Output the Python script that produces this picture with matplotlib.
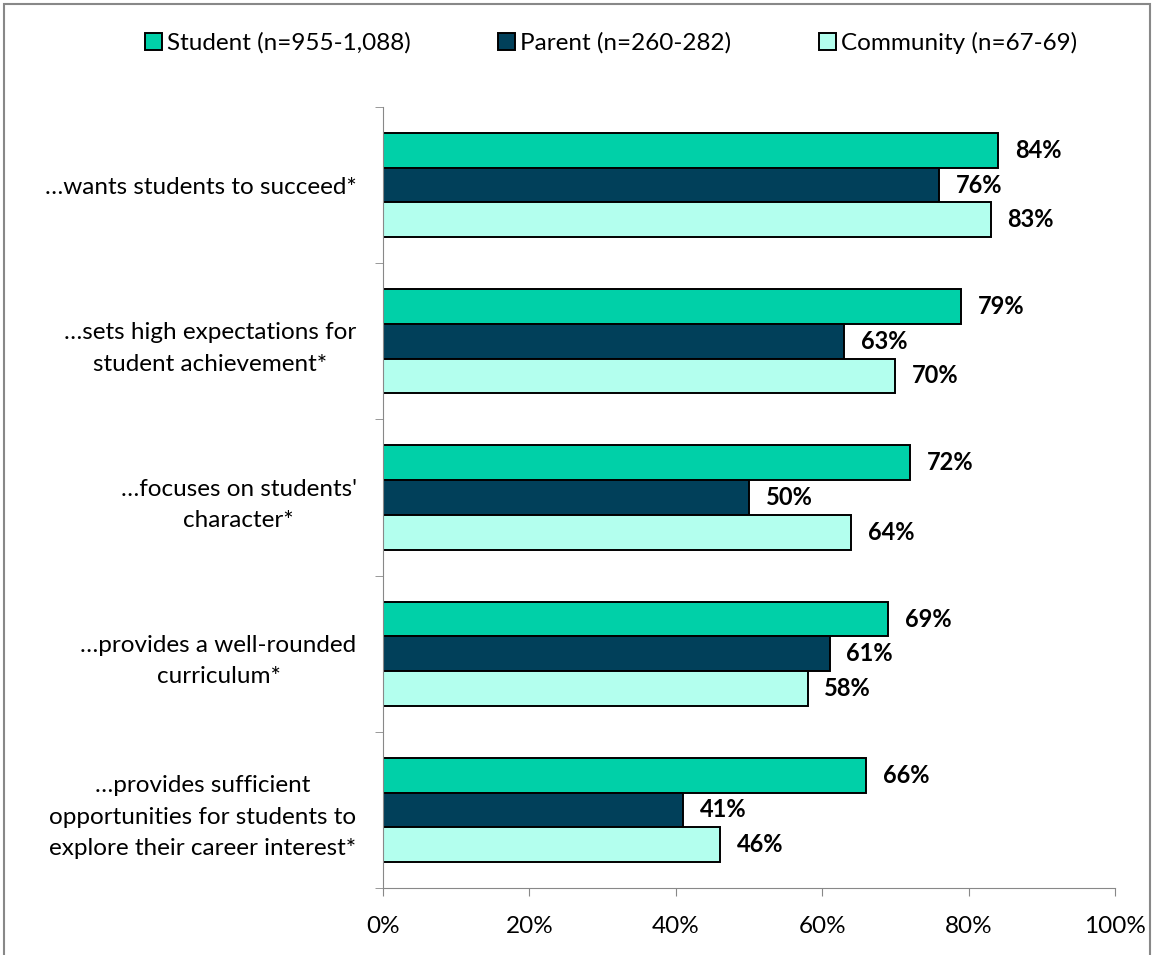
import matplotlib
matplotlib.use("Agg")
import matplotlib.pyplot as plt
from matplotlib.patches import Rectangle
import numpy as np

plt.rcParams['font.family'] = ['Lato', 'DejaVu Sans']

categories = ["\u2026wants students to succeed*",
              "\u2026sets high expectations for\nstudent achievement*",
              "\u2026focuses on students'\ncharacter*",
              "\u2026provides a well-rounded\ncurriculum*",
              "\u2026provides sufficient\nopportunities for students to\nexplore their career interest*"]
series_names = ["Student (n=955-1,088)", "Parent (n=260-282)", "Community (n=67-69)"]
student = [84, 79, 72, 69, 66]
parent = [76, 63, 50, 61, 41]
community = [83, 70, 64, 58, 46]
xticks = [0, 20, 40, 60, 80, 100]
xtick_labels = ["0%", "20%", "40%", "60%", "80%", "100%"]

colors = ["#00D0A8", "#01405A", "#B3FFEE"]
FS = 17.5

W, H = 1154, 955
fig = plt.figure(figsize=(W/100, H/100), dpi=100)
ax = fig.add_axes([383/W, 67/H, (1115-383)/W, (888-107)/H])

y = np.arange(len(categories))
bh = 0.222
for k, (vals, c, name) in enumerate(zip([student, parent, community], colors, series_names)):
    pos = y + (k - 1) * bh
    ax.barh(pos, vals, height=bh, color=c, edgecolor="black", linewidth=1.4, label=name)
    for p, v in zip(pos, vals):
        ax.text(v + 2.3, p, f"{v}%", va="center", ha="left", fontsize=17,
                fontweight="bold", color="black")

ax.set_xlim(0, 100)
ax.set_ylim(len(categories) - 0.5, -0.5)
ax.set_xticks(xticks)
ax.set_xticklabels(xtick_labels, fontsize=FS)
ax.set_yticks(y)
ax.set_yticklabels(categories, fontsize=FS, ha="right", multialignment="center",
                   linespacing=1.6)
ax.tick_params(axis="y", length=0, pad=19)
ax.set_yticks(np.arange(-0.5, len(categories) + 0.5, 1), minor=True)
ax.tick_params(axis="y", which="minor", length=6, color="#888888", direction="out")
ax.tick_params(axis="x", length=6, color="#888888", direction="out", pad=14)
for s in ["top", "right"]:
    ax.spines[s].set_visible(False)
ax.spines["left"].set_color("#888888")
ax.spines["bottom"].set_color("#888888")

fig.legend(loc="center", bbox_to_anchor=(611/W, 1 - 43/H), ncol=3, frameon=False,
           fontsize=FS, handlelength=0.7, handleheight=0.7, handletextpad=0.2,
           columnspacing=3.6, borderpad=0, borderaxespad=0)

fig.patches.append(Rectangle((4/W, -0.01), (1150-4)/W, 1 - 4/H + 0.01, transform=fig.transFigure,
                             fill=False, edgecolor="#888888", linewidth=1.5))

fig.savefig("out.png", dpi=100)
